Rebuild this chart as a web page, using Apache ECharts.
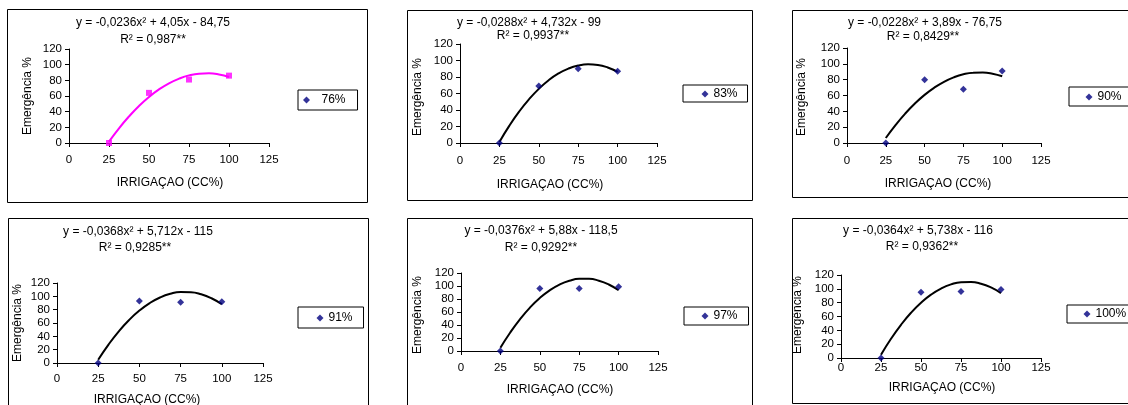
<!DOCTYPE html>
<html>
<head>
<meta charset="utf-8">
<title>Emergência x Irrigação</title>
<script src="https://cdn.jsdelivr.net/npm/echarts@6/dist/echarts.min.js"></script>
<style>
	html, body { margin: 0; padding: 0; background: #fff; }
	#main { width: 1128px; height: 405px; }
</style>
</head>
<body>
<div id="main"></div>
<script>
	// dados
	var irrigacao = [25, 50, 75, 100];
	var em76 = [0, 64, 81, 86];
	var em83 = [0, 69, 90, 87];
	var em90 = [0, 80, 68, 91];
	var em91 = [0, 93, 91, 92];
	var em97 = [0, 96, 96, 99];
	var em100 = [0, 95, 96, 99];

	// linha de tendência (polinomial)
	var curvaX = [25, 31.25, 37.5, 43.75, 50, 56.25, 62.5, 68.75, 75, 81.25, 87.5, 93.75, 100];
	var curva76 = [1.8, 18.8, 33.9, 47.3, 58.8, 68.4, 76.2, 82.1, 86.3, 88.5, 88.9, 87.5, 84.3];
	var curva83 = [1.3, 20.8, 38.0, 52.9, 65.6, 76.1, 84.3, 90.2, 93.9, 95.4, 94.6, 91.5, 86.2];
	var curva90 = [6.3, 22.6, 37.1, 49.8, 60.8, 69.9, 77.3, 82.9, 86.8, 88.8, 89.1, 87.6, 84.3];
	var curva91 = [4.8, 27.6, 47.5, 64.5, 78.6, 89.9, 98.3, 103.8, 106.4, 106.2, 103.1, 97.1, 88.2];
	var curva97 = [5.0, 28.5, 49.1, 66.8, 81.5, 93.3, 102.1, 108.0, 111.0, 111.0, 108.1, 102.3, 93.5];
	var curva100 = [4.7, 27.8, 48.0, 65.4, 79.9, 91.6, 100.4, 106.4, 109.6, 109.9, 107.4, 102.0, 93.8];

	var nomes = ['76%', '83%', '90%', '91%', '97%', '100%'];
	var equacoes = [
		'y = -0,0236x² + 4,05x - 84,75',
		'y = -0,0288x² + 4,732x - 99',
		'y = -0,0228x² + 3,89x - 76,75',
		'y = -0,0368x² + 5,712x - 115',
		'y = -0,0376x² + 5,88x - 118,5',
		'y = -0,0364x² + 5,738x - 116'
	];
	var r2 = ['R² = 0,987**', 'R² = 0,9937**', 'R² = 0,8429**', 'R² = 0,9285**', 'R² = 0,9292**', 'R² = 0,9362**'];
	var tituloX = 'IRRIGAÇAO (CC%)';
	var tituloY = 'Emergência %';

	var pontos = [em76, em83, em90, em91, em97, em100];
	var curvas = [curva76, curva83, curva90, curva91, curva97, curva100];

	// posições de cada painel (px)
	var paineis = [
		{ box: [7, 9, 360, 193], grid: [69, 49, 200, 94], xm: 10.5, eq: [153, 23], r2: [153, 40], ty: [28, 96], tx: [170, 183],
			leg: { left: 298, top: 90, pad: [3, 12, 3, 5], w: 20 } },
		{ box: [407, 10, 345, 190], grid: [460, 44, 197, 99], xm: 12, eq: [529, 23], r2: [533, 36], ty: [418, 97], tx: [550, 185],
			leg: { left: 683, top: 85, pad: [2, 10, 1, 18.5], w: 7 } },
		{ box: [792, 10, 340, 187], grid: [847, 48, 194, 95], xm: 11.5, eq: [925, 23], r2: [923, 37], ty: [802, 97], tx: [938, 184],
			leg: { left: 1069, top: 87, pad: [3, 15, 2, 16.5], w: 7 } },
		{ box: [8, 218, 360, 195], grid: [57, 283, 206, 80], xm: 9.5, eq: [138, 232], r2: [135, 248], ty: [18, 323], tx: [147, 400],
			leg: { left: 298, top: 307, pad: [4, 11, 3, 18.5], w: 7 } },
		{ box: [407, 218, 345, 195], grid: [461, 273, 197, 78], xm: 10.5, eq: [541, 231], r2: [541, 248], ty: [418, 315], tx: [560, 390],
			leg: { left: 684, top: 307, pad: [2, 11, 2, 17.5], w: 7 } },
		{ box: [792, 218, 340, 185], grid: [841, 275, 200, 83], xm: 4, eq: [918, 231], r2: [922, 247], ty: [798, 315], tx: [942, 388],
			leg: { left: 1067, top: 305, pad: [2, 12, 2, 16.5], w: 7 } }
	];

	var fonte = 'Arial, "Liberation Sans", sans-serif';
	var azul = '#000080';
	var rosa = '#ff00ff';
	var losango = 'path://M0,-1L1,0L0,1L-1,0Z';

	var myChart = echarts.init(document.getElementById('main'), null, { renderer: 'canvas' });

	var grids = [], xAxes = [], yAxes = [], series = [], legends = [], graficos = [];

	for (var i = 0; i < paineis.length; i++) {
		var p = paineis[i];
		var cor = i === 0 ? rosa : azul;
		var corLinha = i === 0 ? rosa : '#000';

		graficos.push({
			type: 'rect', silent: true, z: -10,
			shape: { x: p.box[0] + 0.5, y: p.box[1] + 0.5, width: p.box[2], height: p.box[3] },
			style: { fill: '#fff', stroke: '#000', lineWidth: 1 }
		});
		graficos.push({
			type: 'text', silent: true,
			style: { text: equacoes[i], x: p.eq[0], y: p.eq[1], align: 'center', verticalAlign: 'middle',
				font: '12px ' + fonte, fill: '#000' }
		});
		graficos.push({
			type: 'text', silent: true,
			style: { text: r2[i], x: p.r2[0], y: p.r2[1], align: 'center', verticalAlign: 'middle',
				font: '12px ' + fonte, fill: '#000' }
		});
		graficos.push({
			type: 'text', silent: true,
			x: p.ty[0], y: p.ty[1], rotation: Math.PI / 2,
			style: { text: tituloY, x: 0, y: 0, align: 'center', verticalAlign: 'middle',
				font: '12px ' + fonte, fill: '#000' }
		});
		graficos.push({
			type: 'text', silent: true,
			style: { text: tituloX, x: p.tx[0], y: p.tx[1], align: 'center', verticalAlign: 'middle',
				font: '12px ' + fonte, fill: '#000' }
		});

		grids.push({ left: p.grid[0], top: p.grid[1], width: p.grid[2], height: p.grid[3], containLabel: false });

		xAxes.push({
			type: 'value', gridIndex: i, min: 0, max: 125, interval: 25,
			axisLine: { onZero: false, lineStyle: { color: '#000', width: 1 } },
			axisTick: { show: true, length: 4, lineStyle: { color: '#000' } },
			axisLabel: { color: '#000', fontSize: 11.5, fontFamily: fonte, margin: p.xm },
			splitLine: { show: false }
		});
		yAxes.push({
			type: 'value', gridIndex: i, min: 0, max: 120, interval: 20,
			axisLine: { show: true, lineStyle: { color: '#000', width: 1 } },
			axisTick: { show: true, length: 4, lineStyle: { color: '#000' } },
			axisLabel: { color: '#000', fontSize: 11.5, fontFamily: fonte, margin: 7 },
			splitLine: { show: false }
		});

		var linha = [];
		for (var k = 0; k < curvaX.length; k++) linha.push([curvaX[k], curvas[i][k]]);
		series.push({
			name: 'Polinômio (' + nomes[i] + ')', type: 'line', xAxisIndex: i, yAxisIndex: i,
			data: linha, smooth: true, showSymbol: false, silent: true, z: 2,
			lineStyle: { color: corLinha, width: 2 }
		});

		var pts = [];
		for (var j = 0; j < irrigacao.length; j++) pts.push([irrigacao[j], pontos[i][j]]);
		series.push({
			name: nomes[i], type: 'scatter', xAxisIndex: i, yAxisIndex: i, data: pts, z: 3,
			symbol: i === 0 ? 'rect' : 'diamond', symbolSize: i === 0 ? 6 : 7,
			itemStyle: { color: cor }
		});

		legends.push({
			left: p.leg.left, top: p.leg.top, orient: 'vertical', padding: p.leg.pad,
			borderColor: '#000', borderWidth: 1, backgroundColor: '#fff',
			itemWidth: p.leg.w, itemHeight: 7, symbolKeepAspect: true, selectedMode: false,
			textStyle: { color: '#000', fontSize: 12, fontFamily: fonte, lineHeight: 14 },
			data: [{ name: nomes[i], icon: losango, itemStyle: { color: azul } }]
		});
	}

	myChart.setOption({
		animation: false,
		backgroundColor: '#fff',
		graphic: graficos,
		grid: grids,
		xAxis: xAxes,
		yAxis: yAxes,
		legend: legends,
		series: series
	});
</script>
</body>
</html>
